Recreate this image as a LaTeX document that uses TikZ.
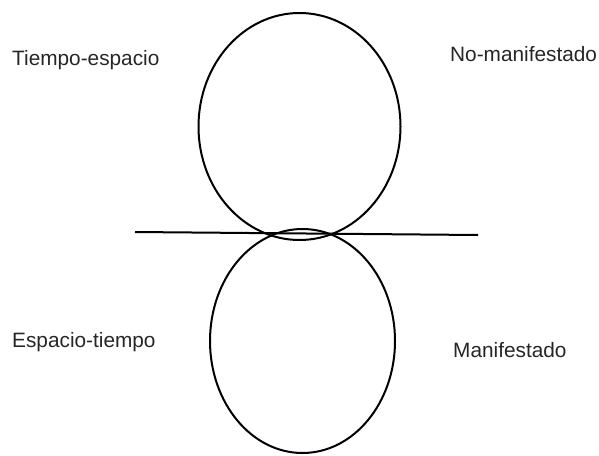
\documentclass[tikz,border=0pt]{standalone}
\usepackage{fontspec}
\setmainfont{Liberation Sans}
\usetikzlibrary{shapes.geometric}
\begin{document}
\begin{tikzpicture}[x=1pt,y=-1pt,
  lbl/.style={anchor=base west, inner sep=0pt, font=\fontsize{20.8}{24}\selectfont, text=black!85},
  loop/.style={draw, ellipse, inner sep=0pt, line width=2pt}]
\useasboundingbox (0,0) rectangle (599,455);
\node[loop, minimum width=202pt, minimum height=227pt] (top) at (299.5,126.5) {};
\node[loop, minimum width=185pt, minimum height=224pt] (bot) at (302.5,341) {};
\coordinate (L) at (135,232);
\coordinate (R) at (478,235);
\draw[line width=2pt] (L) -- (R);
\node[lbl] (te) at (12,65) {Tiempo-espacio};
\node[lbl] (nm) at (450,61) {No-manifestado};
\node[lbl] (et) at (12,347) {Espacio-tiempo};
\node[lbl] (ma) at (453,357) {Manifestado};
\end{tikzpicture}
\end{document}
